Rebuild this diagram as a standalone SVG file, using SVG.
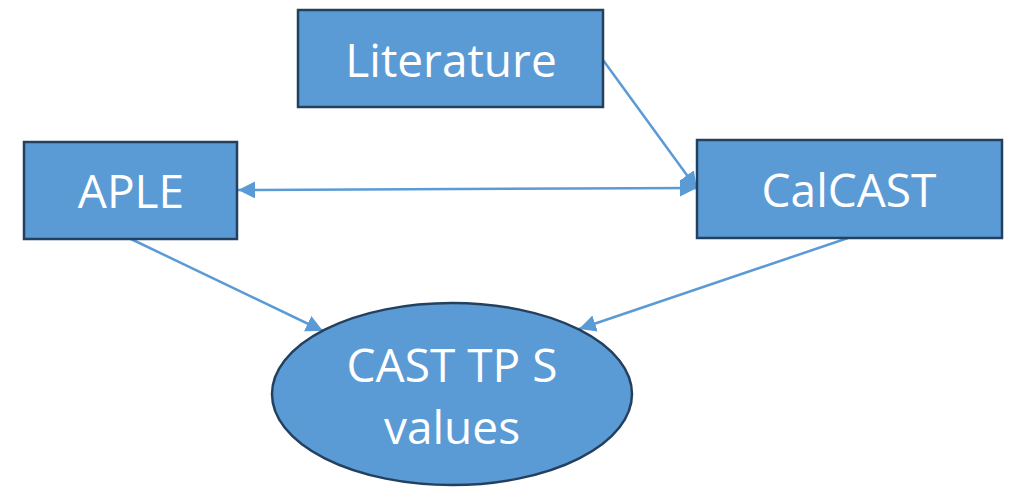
<svg xmlns="http://www.w3.org/2000/svg" width="1010" height="487" viewBox="0 0 1010 487">
  <style>
    .box { fill: #5b9bd5; stroke: #24405f; stroke-width: 2.5; }
    .lbl { fill: #ffffff; font-family: "Open Sans", "Liberation Sans", sans-serif; font-size: 46px; text-anchor: middle; }
    .edge { stroke: #5b9bd5; stroke-width: 2.5; fill: none; }
  </style>
  <defs>
    <marker id="big" viewBox="0 0 10 10" refX="10" refY="5" markerWidth="17" markerHeight="17" markerUnits="userSpaceOnUse" orient="auto-start-reverse">
      <path d="M0,0 L10,5 L0,10 z" fill="#5b9bd5"/>
    </marker>
  </defs>

  <g id="connectors">
    <line class="edge" x1="603" y1="60" x2="697" y2="189" marker-end="url(#big)"/>
    <line class="edge" x1="238" y1="190" x2="697" y2="188" marker-start="url(#big)" marker-end="url(#big)"/>
    <line class="edge" x1="131" y1="239" x2="323" y2="331" marker-end="url(#big)"/>
    <line class="edge" x1="848" y1="238" x2="579" y2="329" marker-end="url(#big)"/>
  </g>

  <g id="literature">
    <rect class="box" x="298" y="10" width="305" height="97"/>
    <text class="lbl" x="451" y="77">Literature</text>
  </g>

  <g id="aple">
    <rect class="box" x="24" y="142" width="213" height="97"/>
    <text class="lbl" x="131" y="208">APLE</text>
  </g>

  <g id="calcast">
    <rect class="box" x="697" y="140" width="305" height="98"/>
    <text class="lbl" x="849" y="207">CalCAST</text>
  </g>

  <g id="cast-tps-values">
    <ellipse class="box" cx="452" cy="394" rx="180" ry="91"/>
    <text class="lbl" x="452" y="382">CAST TP S</text>
    <text class="lbl" x="452" y="444">values</text>
  </g>
</svg>
